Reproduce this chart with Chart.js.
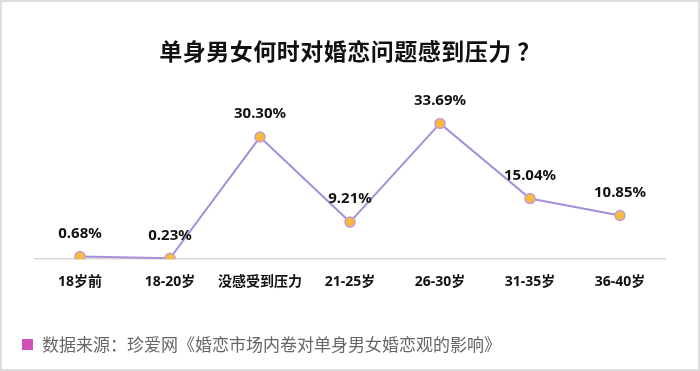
<!DOCTYPE html>
<html>
<head>
<meta charset="utf-8">
<script src="https://cdn.jsdelivr.net/npm/chart.js@4"></script>
<style>
  body { margin: 0; background: #fff; }
  #wrap { position: relative; width: 700px; height: 371px; overflow: hidden; }
  #frame { position: absolute; left: 0; top: 0; width: 700px; height: 371px; box-sizing: border-box; border: 2px solid #dedede; pointer-events: none; }
  #title { position: absolute; left: 0; top: 33px; width: 700px; text-align: center; font: bold 23px 'Noto Sans CJK SC', sans-serif; color: #111; letter-spacing: 0.5px; }
  #source { position: absolute; left: 22px; top: 331px; font: 17px 'Noto Sans CJK SC', sans-serif; color: #666; }
  #source span { display: inline-block; width: 11px; height: 11px; background: #d24fb4; margin-right: 9px; vertical-align: 1px; }
</style>
</head>
<body>
<div id="wrap">
  <canvas id="lineChart" width="700" height="371"></canvas>
  <div id="title">单身男女何时对婚恋问题感到压力 ？</div>
  <div id="source"><span></span>数据来源：珍爱网《婚恋市场内卷对单身男女婚恋观的影响》</div>
  <div id="frame"></div>
</div>
<script>
const categories = ['18岁前', '18-20岁', '没感受到压力', '21-25岁', '26-30岁', '31-35岁', '36-40岁'];
const shares = [0.68, 0.23, 30.30, 9.21, 33.69, 15.04, 10.85];

// draws the percent labels above each point
const valueLabels = {
    id: 'valueLabels',
    afterDatasetsDraw(chart) {
        const ctx = chart.ctx;
        const meta = chart.getDatasetMeta(0);
        ctx.save();
        ctx.font = 'bold 15px "Noto Sans", "Noto Sans CJK SC", sans-serif';
        ctx.fillStyle = '#111';
        ctx.textAlign = 'center';
        ctx.textBaseline = 'middle';
        meta.data.forEach((pt, i) => {
            ctx.fillText(shares[i].toFixed(2) + '%', pt.x, pt.y - 23);
        });
        ctx.restore();
    }
};

const ctx = document.getElementById('lineChart').getContext('2d');
new Chart(ctx, {
    type: 'line',
    data: {
        labels: categories,
        datasets: [{
            data: shares,
            borderColor: '#a58fd8',
            borderWidth: 2,
            pointRadius: 5,
            pointBackgroundColor: '#f4bb3e',
            pointBorderColor: '#c89ccc',
            pointBorderWidth: 1.5,
            tension: 0
        }]
    },
    options: {
        responsive: false,
        animation: false,
        layout: { padding: { left: 35, right: 35, top: 98, bottom: 75 } },
        plugins: { legend: { display: false }, tooltip: { enabled: false } },
        scales: {
            x: {
                offset: true,
                grid: { display: false },
                border: { display: true, color: '#d9d9d9', width: 1.5 },
                ticks: {
                    padding: 6,
                    color: '#111',
                    font: { family: '"Noto Sans", "Noto Sans CJK SC", sans-serif', size: 14, weight: 'bold' },
                    maxRotation: 0
                }
            },
            y: {
                display: false,
                min: 0,
                max: 40
            }
        }
    },
    plugins: [valueLabels]
});
</script>
</body>
</html>
